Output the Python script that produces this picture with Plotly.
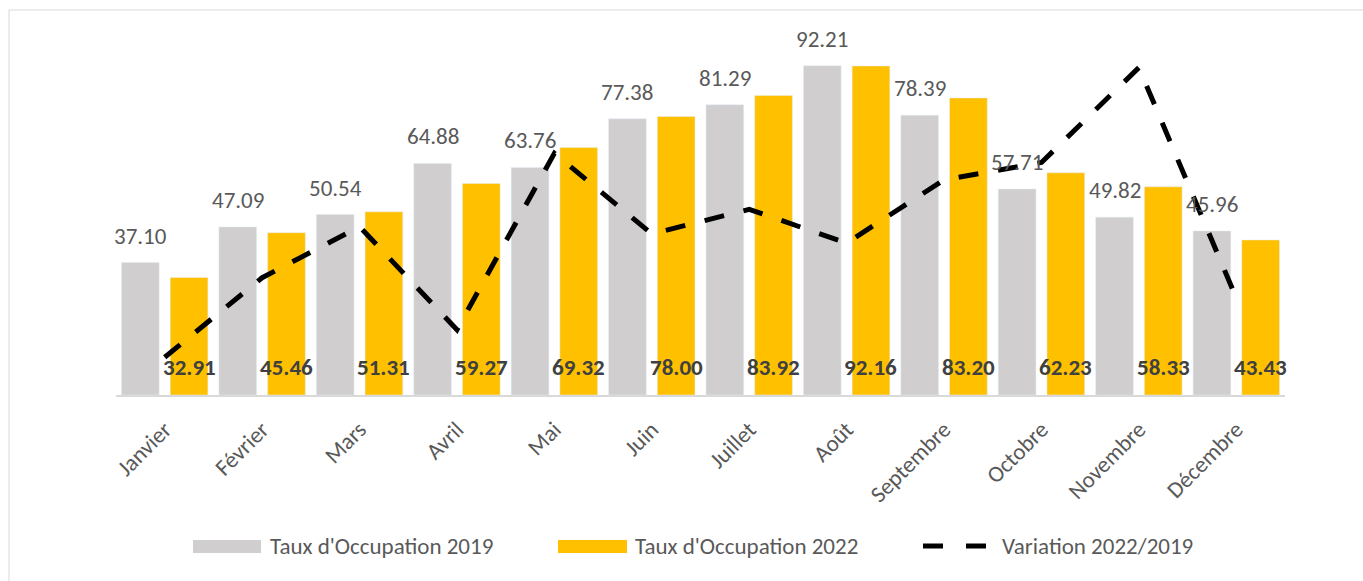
import plotly.graph_objects as go

months = ["Janvier", "Février", "Mars", "Avril", "Mai", "Juin", "Juillet",
          "Août", "Septembre", "Octobre", "Novembre", "Décembre"]
taux_2019 = [37.10, 47.09, 50.54, 64.88, 63.76, 77.38, 81.29, 92.21, 78.39, 57.71, 49.82, 45.96]
taux_2022 = [32.91, 45.46, 51.31, 59.27, 69.32, 78.00, 83.92, 92.16, 83.20, 62.23, 58.33, 43.43]
variation = [-11.3, -3.5, 1.5, -8.6, 8.7, 0.8, 3.2, -0.1, 6.1, 7.8, 17.1, -5.5]  # %

names = ["Taux d'Occupation 2019", "Taux d'Occupation 2022", "Variation 2022/2019"]
GREY = "#D0CECE"
YELLOW = "#FFC000"
FONT = "Carlito, Calibri, Lato, sans-serif"
FS = 23

fig = go.Figure()
fig.add_trace(go.Bar(x=months, y=taux_2019, name=names[0], marker_color=GREY,
                     showlegend=False, hoverinfo="y"))
fig.add_trace(go.Bar(x=months, y=taux_2022, name=names[1], marker_color=YELLOW,
                     showlegend=False, hoverinfo="y"))
fig.add_trace(go.Scatter(x=months, y=variation, name=names[2], mode="lines", yaxis="y2",
                         line=dict(color="black", width=5, dash="20px,20px"),
                         showlegend=False))

annotations = []
for i, v in enumerate(taux_2019):
    annotations.append(dict(x=i - 0.25, y=v, xref="x", yref="y", text=f"{v:.2f}",
                            showarrow=False, yanchor="bottom", yshift=11,
                            font=dict(family=FONT, size=FS, color="#595959")))
for i, v in enumerate(taux_2022):
    annotations.append(dict(x=i + 0.25, y=0, xref="x", yref="y", text=f"<b>{v:.2f}</b>",
                            showarrow=False, yanchor="bottom", yshift=12,
                            font=dict(family=FONT, size=FS, color="#404040")))

# plot-area pixel geometry for the hand-drawn legend
L, R, T, B = 116, 1285, 38, 395
def px(x):
    return (x - L) / (R - L)
def py(y):
    return (B - y) / (B - T)

shapes = [
    dict(type="rect", xref="paper", yref="paper", x0=px(9), x1=px(1400), y0=py(10), y1=py(600),
         line=dict(color="#D9D9D9", width=1), fillcolor="rgba(0,0,0,0)", layer="below"),
    dict(type="rect", xref="paper", yref="paper", x0=px(193), x1=px(261), y0=py(540), y1=py(553),
         line=dict(width=0), fillcolor=GREY),
    dict(type="rect", xref="paper", yref="paper", x0=px(558), x1=px(627), y0=py(540), y1=py(553),
         line=dict(width=0), fillcolor=YELLOW),
    dict(type="line", xref="paper", yref="paper", x0=px(923), x1=px(943), y0=py(546), y1=py(546),
         line=dict(color="black", width=5)),
    dict(type="line", xref="paper", yref="paper", x0=px(966), x1=px(986), y0=py(546), y1=py(546),
         line=dict(color="black", width=5)),
]
for xpos, name in zip([268, 633, 1000], names):
    annotations.append(dict(x=px(xpos), y=py(546), xref="paper", yref="paper", text=name,
                            showarrow=False, xanchor="left", yanchor="middle",
                            font=dict(family=FONT, size=FS, color="#595959")))

fig.update_layout(
    width=1363, height=581,
    margin=dict(l=L, r=1363 - R, t=T, b=581 - B),
    paper_bgcolor="white", plot_bgcolor="white",
    barmode="group", bargap=0.0, bargroupgap=0.226,
    font=dict(family=FONT, size=FS, color="#595959"),
    xaxis=dict(tickangle=-45, showline=True, linecolor="#D9D9D9", linewidth=2,
               range=[-0.5, len(months) - 0.5],
               ticks="", showgrid=False, ticklabelstandoff=10, automargin=False,
               tickfont=dict(family=FONT, size=FS, color="#595959")),
    yaxis=dict(range=[0, 100], visible=False, showgrid=False, automargin=False),
    yaxis2=dict(range=[-15, 20], overlaying="y", visible=False, showgrid=False, automargin=False),
    annotations=annotations,
    shapes=shapes,
    showlegend=False,
)

fig.write_html("out.html", config={"displayModeBar": False},
               post_script="document.body.style.margin='0';document.body.style.overflow='hidden';")
